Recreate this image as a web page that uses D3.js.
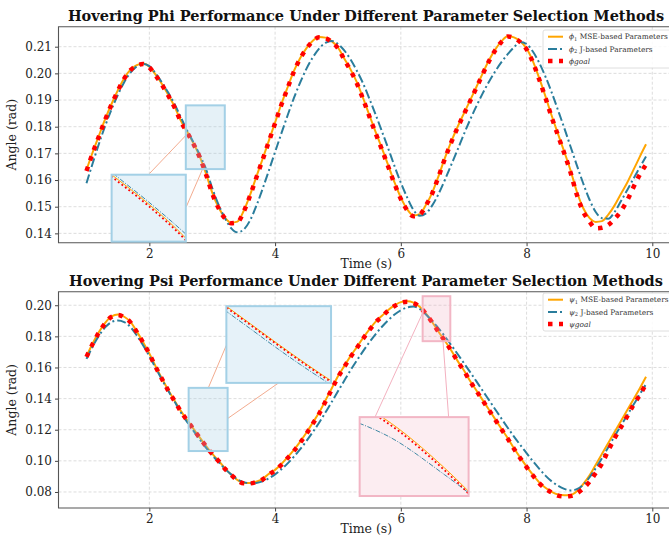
<!DOCTYPE html>
<html>
<head>
<meta charset="utf-8">
<script src="https://cdn.jsdelivr.net/npm/d3@7/dist/d3.min.js"></script>
<style>
    body { margin: 0; background: #fff; }
    svg { font-family: "DejaVu Serif", serif; }
</style>
</head>
<body>
<svg id="chart" width="669" height="538"></svg>
<script>
// time axis (s)
var times = [1.0,1.1,1.2,1.3,1.4,1.5,1.6,1.7,1.8,1.9,2.0,2.1,2.2,2.3,2.4,2.5,2.6,2.7,2.8,2.9,
    3.0,3.1,3.2,3.3,3.4,3.5,3.6,3.7,3.8,3.9,4.0,4.1,4.2,4.3,4.4,4.5,4.6,4.7,4.8,4.9,
    5.0,5.1,5.2,5.3,5.4,5.5,5.6,5.7,5.8,5.9,6.0,6.1,6.2,6.3,6.4,6.5,6.6,6.7,6.8,6.9,
    7.0,7.1,7.2,7.3,7.4,7.5,7.6,7.7,7.8,7.9,8.0,8.1,8.2,8.3,8.4,8.5,8.6,8.7,8.8,8.9,
    9.0,9.1,9.2,9.3,9.4,9.5,9.6,9.7,9.8,9.9]

// phi panel
var phiMse = [0.1638,0.1705,0.1768,0.1830,0.1886,0.1937,0.1982,0.2014,0.2031,0.2037,
    0.2025,0.1995,0.1960,0.1920,0.1876,0.1823,0.1782,0.1739,0.1689,0.1625,
    0.1553,0.1498,0.1460,0.1440,0.1444,0.1484,0.1543,0.1611,0.1678,0.1747,
    0.1816,0.1885,0.1948,0.2009,0.2058,0.2095,0.2122,0.2136,0.2134,0.2121,
    0.2097,0.2056,0.2015,0.1967,0.1907,0.1843,0.1780,0.1719,0.1655,0.1591,
    0.1534,0.1491,0.1467,0.1472,0.1507,0.1553,0.1615,0.1682,0.1743,0.1798,
    0.1848,0.1898,0.1948,0.1999,0.2048,0.2089,0.2120,0.2139,0.2135,0.2120,
    0.2093,0.2046,0.1983,0.1914,0.1841,0.1773,0.1706,0.1636,0.1556,0.1495,
    0.1458,0.1443,0.1446,0.1470,0.1505,0.1548,0.1590,0.1638,0.1687,0.1734]
var phiJ = [0.1588,0.1664,0.1737,0.1805,0.1866,0.1920,0.1967,0.2003,0.2026,0.2035,
    0.2027,0.2000,0.1966,0.1928,0.1885,0.1836,0.1786,0.1742,0.1695,0.1642,
    0.1570,0.1508,0.1458,0.1420,0.1404,0.1414,0.1448,0.1502,0.1566,0.1635,
    0.1705,0.1775,0.1843,0.1908,0.1966,0.2018,0.2060,0.2093,0.2114,0.2121,
    0.2110,0.2086,0.2052,0.2010,0.1962,0.1905,0.1845,0.1782,0.1718,0.1652,
    0.1590,0.1535,0.1488,0.1466,0.1475,0.1505,0.1548,0.1600,0.1656,0.1712,
    0.1770,0.1825,0.1876,0.1924,0.1968,0.2007,0.2042,0.2072,0.2098,0.2118,
    0.2110,0.2082,0.2040,0.1988,0.1928,0.1862,0.1795,0.1725,0.1655,0.1588,
    0.1527,0.1480,0.1457,0.1455,0.1480,0.1520,0.1562,0.1605,0.1647,0.1688]
var phiGoal = [0.1634,0.1702,0.1765,0.1828,0.1884,0.1935,0.1980,0.2012,0.2029,0.2035,
    0.2022,0.1992,0.1957,0.1917,0.1873,0.1820,0.1779,0.1736,0.1686,0.1622,
    0.1550,0.1495,0.1457,0.1438,0.1441,0.1481,0.1540,0.1608,0.1675,0.1744,
    0.1813,0.1882,0.1945,0.2007,0.2056,0.2093,0.2121,0.2135,0.2132,0.2118,
    0.2094,0.2052,0.2011,0.1963,0.1903,0.1838,0.1775,0.1714,0.1650,0.1586,
    0.1529,0.1487,0.1464,0.1470,0.1505,0.1550,0.1613,0.1680,0.1740,0.1795,
    0.1845,0.1895,0.1945,0.1996,0.2045,0.2086,0.2118,0.2138,0.2133,0.2117,
    0.2090,0.2042,0.1978,0.1909,0.1835,0.1767,0.1700,0.1628,0.1545,0.1482,
    0.1444,0.1419,0.1421,0.1432,0.1454,0.1483,0.1523,0.1573,0.1620,0.1658]

// psi panel
var psiMse = [0.1672,0.1756,0.1829,0.1889,0.1929,0.1940,0.1926,0.1893,0.1832,0.1763,
    0.1690,0.1607,0.1530,0.1455,0.1388,0.1321,0.1263,0.1207,0.1151,0.1097,
    0.1046,0.1001,0.0953,0.0912,0.0877,0.0858,0.0857,0.0866,0.0884,0.0916,
    0.0942,0.0980,0.1024,0.1071,0.1124,0.1182,0.1246,0.1310,0.1387,0.1465,
    0.1543,0.1609,0.1673,0.1731,0.1790,0.1845,0.1895,0.1932,0.1970,0.1999,
    0.2020,0.2025,0.2017,0.1990,0.1946,0.1891,0.1830,0.1772,0.1711,0.1644,
    0.1584,0.1515,0.1454,0.1392,0.1330,0.1268,0.1206,0.1146,0.1081,0.1021,
    0.0964,0.0910,0.0862,0.0827,0.0801,0.0784,0.0779,0.0781,0.0805,0.0850,
    0.0905,0.0975,0.1045,0.1115,0.1185,0.1255,0.1325,0.1395,0.1465,0.1540]
var psiJ = [0.1655,0.1736,0.1805,0.1859,0.1892,0.1902,0.1892,0.1860,0.1806,0.1743,
    0.1673,0.1597,0.1522,0.1450,0.1382,0.1312,0.1250,0.1194,0.1138,0.1085,
    0.1036,0.0993,0.0950,0.0913,0.0882,0.0863,0.0856,0.0858,0.0868,0.0887,
    0.0913,0.0946,0.0984,0.1027,0.1075,0.1128,0.1185,0.1245,0.1310,0.1378,
    0.1447,0.1515,0.1582,0.1645,0.1705,0.1762,0.1815,0.1862,0.1904,0.1940,
    0.1968,0.1986,0.1992,0.1976,0.1940,0.1898,0.1852,0.1800,0.1745,0.1688,
    0.1630,0.1572,0.1512,0.1452,0.1392,0.1332,0.1272,0.1213,0.1156,0.1102,
    0.1050,0.0998,0.0950,0.0905,0.0868,0.0840,0.0820,0.0810,0.0818,0.0845,
    0.0893,0.0953,0.1018,0.1088,0.1158,0.1226,0.1293,0.1360,0.1427,0.1493]
var psiGoal = [0.1668,0.1752,0.1826,0.1886,0.1926,0.1937,0.1922,0.1890,0.1828,0.1760,
    0.1687,0.1604,0.1527,0.1452,0.1385,0.1318,0.1260,0.1204,0.1148,0.1094,
    0.1043,0.0999,0.0950,0.0910,0.0875,0.0856,0.0855,0.0864,0.0880,0.0912,
    0.0937,0.0974,0.1018,0.1064,0.1117,0.1175,0.1239,0.1302,0.1380,0.1458,
    0.1537,0.1603,0.1668,0.1725,0.1785,0.1840,0.1891,0.1927,0.1966,0.1995,
    0.2016,0.2022,0.2014,0.1988,0.1944,0.1889,0.1828,0.1770,0.1709,0.1641,
    0.1581,0.1512,0.1451,0.1389,0.1327,0.1265,0.1203,0.1143,0.1077,0.1017,
    0.0960,0.0906,0.0857,0.0822,0.0796,0.0777,0.0771,0.0774,0.0791,0.0822,
    0.0865,0.0922,0.0983,0.1067,0.1145,0.1215,0.1285,0.1360,0.1423,0.1495]

var xTicks = [2, 4, 6, 8, 10]
var phiTicks = [0.14, 0.15, 0.16, 0.17, 0.18, 0.19, 0.20, 0.21]
var psiTicks = [0.08, 0.10, 0.12, 0.14, 0.16, 0.18, 0.20]

var ORANGE = '#ffa500'
var TEAL = '#2a7d9c'
var RED = '#ff0000'
var GOAL_DASH = '4.5,6.5'

var svg = d3.select('#chart')

drawPanel({
    id: 'phi',
    title: 'Hovering Phi Performance Under Different Parameter Selection Methods',
    sym: '\u03d5',
    mse: phiMse, j: phiJ, goal: phiGoal,
    yDomain: [0.1365, 0.2175], yTicks: phiTicks, fmt: '.2f',
    top: 26.7, bottom: 242.7, titleY: 21,
    legendTop: 30,
    insets: [
        {region: [2.58, 3.20, 0.1641, 0.1880], box: [1.40, 2.58, 0.1369, 0.1620],
         xd: [2.60, 2.80], yd: [0.1684, 0.1782], kind: 'blue',
         links: [[2.588, 0.1769, 2.005, 0.1625], [2.852, 0.1644, 2.588, 0.1500]]}
    ]
})

drawPanel({
    id: 'psi',
    title: 'Hovering Psi Performance Under Different Parameter Selection Methods',
    sym: '\u03c8',
    mse: psiMse, j: psiJ, goal: psiGoal,
    yDomain: [0.0697, 0.2087], yTicks: psiTicks, fmt: '.2f',
    top: 291.7, bottom: 508, titleY: 286,
    legendTop: 293,
    insets: [
        {region: [2.625, 3.245, 0.1063, 0.1469], box: [3.225, 4.890, 0.1501, 0.1994],
         xd: [2.62, 2.98], yd: [0.1050, 0.1252], kind: 'blue',
         links: [[2.943, 0.1474, 3.225, 0.1743], [3.245, 0.1272, 4.057, 0.1501]]},
        {region: [6.347, 6.787, 0.1769, 0.2058], box: [5.345, 7.078, 0.0774, 0.1281],
         xd: [6.26, 6.44], yd: [0.1921, 0.1991], kind: 'pink',
         links: [[6.347, 0.1951, 5.579, 0.1272], [6.671, 0.1769, 6.760, 0.1281]]}
    ]
})

function drawPanel(p) {
    var g = svg.append('g').attr('class', p.id)
    var left = 58.5, right = 674
    var x = d3.scaleLinear().domain([0.555, 10.345]).range([left, right])
    var y = d3.scaleLinear().domain(p.yDomain).range([p.bottom, p.top])

    var clipId = 'clip-' + p.id
    g.append('clipPath').attr('id', clipId)
        .append('rect').attr('x', left).attr('y', p.top)
        .attr('width', right - left).attr('height', p.bottom - p.top)

    // grid
    var grid = g.append('g').attr('stroke', '#d4d4d4').attr('stroke-width', 0.8)
        .attr('stroke-dasharray', '3,2')
    grid.selectAll('.gx').data(xTicks).enter().append('line')
        .attr('x1', x).attr('x2', x).attr('y1', p.top).attr('y2', p.bottom)
    grid.selectAll('.gy').data(p.yTicks).enter().append('line')
        .attr('x1', left).attr('x2', right).attr('y1', y).attr('y2', y)

    // axes
    var xAxis = g.append('g').attr('transform', 'translate(0,' + p.bottom + ')')
        .call(d3.axisBottom(x).tickValues(xTicks).tickSize(3.5).tickPadding(3).tickFormat(d3.format('d')))
    var yAxis = g.append('g').attr('transform', 'translate(' + left + ',0)')
        .call(d3.axisLeft(y).tickValues(p.yTicks).tickSize(3.5).tickPadding(3).tickFormat(d3.format(p.fmt)))
    ;[xAxis, yAxis].forEach(function (a) {
        a.select('.domain').remove()
        a.selectAll('line').attr('stroke', '#444')
        a.selectAll('text').attr('font-family', '"DejaVu Serif", serif')
            .attr('font-size', 12).attr('fill', '#222')
    })

    // spines
    g.append('path')
        .attr('d', 'M' + right + ',' + p.top + 'H' + left + 'V' + p.bottom + 'H' + right)
        .attr('fill', 'none').attr('stroke', '#555').attr('stroke-width', 1.1)

    var line = d3.line()
        .x(function (d) { return x(d[0]) })
        .y(function (d) { return y(d[1]) })
        .curve(d3.curveMonotoneX)
    var zip = function (vals) { return times.map(function (t, i) { return [t, vals[i]] }) }

    var plot = g.append('g').attr('clip-path', 'url(#' + clipId + ')')
    plot.append('path').attr('d', line(zip(p.mse)))
        .attr('fill', 'none').attr('stroke', ORANGE).attr('stroke-width', 2)
    plot.append('path').attr('d', line(zip(p.j)))
        .attr('fill', 'none').attr('stroke', TEAL).attr('stroke-width', 2)
        .attr('stroke-dasharray', '9,3,2,3')
    plot.append('path').attr('d', line(zip(p.goal)))
        .attr('fill', 'none').attr('stroke', RED).attr('stroke-width', 4.5)
        .attr('stroke-dasharray', GOAL_DASH)

    // zoom insets
    p.insets.forEach(function (ins, k) {
        var col = ins.kind == 'pink'
            ? {stroke: '#f2b6c5', fill: '#fcedf1', region: 'rgba(240,170,190,0.25)', link: '#f2a7b8'}
            : {stroke: '#a3d0e6', fill: '#e6f2f9', region: 'rgba(160,205,228,0.28)', link: '#f0a282'}
        var r = ins.region, b = ins.box

        ins.links.forEach(function (l) {
            g.append('line')
                .attr('x1', x(l[0])).attr('y1', y(l[1]))
                .attr('x2', x(l[2])).attr('y2', y(l[3]))
                .attr('stroke', col.link).attr('stroke-width', 0.9)
        })
        g.append('rect')
            .attr('x', x(r[0])).attr('y', y(r[3]))
            .attr('width', x(r[1]) - x(r[0])).attr('height', y(r[2]) - y(r[3]))
            .attr('fill', col.region).attr('stroke', col.stroke).attr('stroke-width', 2)

        var bx0 = x(b[0]), bx1 = x(b[1]), by0 = y(b[3]), by1 = y(b[2])
        var ix = d3.scaleLinear().domain(ins.xd).range([bx0, bx1])
        var iy = d3.scaleLinear().domain(ins.yd).range([by1, by0])
        var cid = clipId + '-inset' + k
        g.append('clipPath').attr('id', cid).append('rect')
            .attr('x', bx0).attr('y', by0).attr('width', bx1 - bx0).attr('height', by1 - by0)
        g.append('rect').attr('x', bx0).attr('y', by0)
            .attr('width', bx1 - bx0).attr('height', by1 - by0)
            .attr('fill', col.fill)
        var iline = d3.line()
            .x(function (d) { return ix(d[0]) })
            .y(function (d) { return iy(d[1]) })
            .curve(d3.curveMonotoneX)
        var ig = g.append('g').attr('clip-path', 'url(#' + cid + ')')
        ig.append('path').attr('d', iline(zip(p.mse)))
            .attr('fill', 'none').attr('stroke', ORANGE).attr('stroke-width', 1)
        ig.append('path').attr('d', iline(zip(p.j)))
            .attr('fill', 'none').attr('stroke', TEAL).attr('stroke-width', 0.9)
            .attr('stroke-dasharray', '5,1.5,1,1.5')
        ig.append('path').attr('d', iline(zip(p.goal)))
            .attr('fill', 'none').attr('stroke', RED).attr('stroke-width', 1.8)
            .attr('stroke-dasharray', '1.8,2.6')
        g.append('rect').attr('x', bx0).attr('y', by0)
            .attr('width', bx1 - bx0).attr('height', by1 - by0)
            .attr('fill', 'none').attr('stroke', col.stroke).attr('stroke-width', 2)
    })

    // legend
    var lg = g.append('g').attr('transform', 'translate(543,' + p.legendTop + ')')
    lg.append('rect').attr('x', 0).attr('y', 0).attr('width', 135).attr('height', 38)
        .attr('rx', 2).attr('fill', 'rgba(255,255,255,0.85)')
        .attr('stroke', '#d6d6d6').attr('stroke-width', 0.8)
    var entries = [
        {color: ORANGE, w: 2, dash: null, sub: '1', label: ' MSE-based Parameters'},
        {color: TEAL, w: 2, dash: '9,3,2,3', sub: '2', label: ' J-based Parameters'},
        {color: RED, w: 4.5, dash: GOAL_DASH, sub: null, label: 'goal'}
    ]
    entries.forEach(function (e, i) {
        var cy = 6.7 + i * 12.2
        lg.append('line').attr('x1', 5).attr('x2', 20).attr('y1', cy).attr('y2', cy)
            .attr('stroke', e.color).attr('stroke-width', e.w)
            .attr('stroke-dasharray', e.dash)
        var t = lg.append('text').attr('x', 26).attr('y', cy + 2.6)
            .attr('font-size', 7.4).attr('fill', '#333')
        t.append('tspan').attr('font-style', 'italic').text(p.sym)
        if (e.sub) {
            t.append('tspan').attr('font-size', 5.2).attr('dy', 1.6).text(e.sub)
            t.append('tspan').attr('dy', -1.6).text(e.label)
        } else {
            t.append('tspan').attr('font-style', 'italic').text(e.label)
        }
    })

    // title and labels
    g.append('text').attr('x', 366).attr('y', p.titleY)
        .attr('text-anchor', 'middle').attr('font-weight', 'bold').attr('font-size', 14.5)
        .attr('fill', '#111').text(p.title)
    g.append('text').attr('x', (left + right) / 2).attr('y', p.bottom + 25)
        .attr('text-anchor', 'middle').attr('font-size', 12.5).attr('fill', '#222')
        .text('Time (s)')
    g.append('text')
        .attr('transform', 'translate(16,' + (p.top + p.bottom) / 2 + ') rotate(-90)')
        .attr('text-anchor', 'middle').attr('font-size', 12.5).attr('fill', '#222')
        .text('Angle (rad)')
}
</script>
</body>
</html>
